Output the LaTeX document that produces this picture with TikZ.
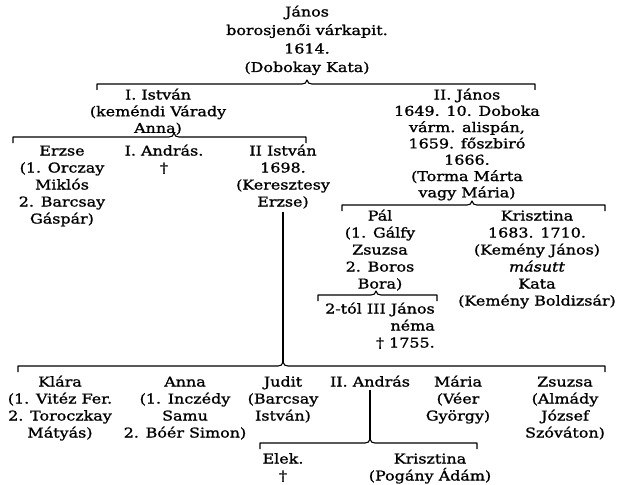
\documentclass[tikz,border=0pt]{standalone}
\usepackage{fontspec}
\setmainfont{DejaVu Serif}[FakeStretch=1.18, FakeBold=1.2]
\usetikzlibrary{calc}
\tikzset{
  person/.style={align=center, inner sep=0pt, anchor=base, font=\fontsize{13.5}{17}\selectfont},
  kinline/.style={line width=1.1pt, line join=round},
  descent/.style={line width=1.2pt, shorten <=3pt},
}
% #1 left end, #2 right end, #3 tip (all on the line)
\newcommand\kinbrace[3]{%
  \draw[kinline] ([yshift=-6pt]#1) -- (#1) -- ([xshift=-5pt]#3)
    .. controls ([xshift=-2pt]#3) and ([xshift=-1pt,yshift=1pt]#3) .. ([yshift=4pt]#3)
    .. controls ([xshift=1pt,yshift=1pt]#3) and ([xshift=2pt]#3) .. ([xshift=5pt]#3)
    -- (#2) -- ([yshift=-6pt]#2);}
\begin{document}
\begin{tikzpicture}[x=1pt,y=-1pt]
\useasboundingbox (0,0) rectangle (617,484);
% node positions are the baselines of their last lines
% generation 1
\node[person, font=\fontsize{13.5}{18.5}\selectfont] (janos1) at (307,72)
  {János\\borosjenői várkapit.\\1614.\\(Dobokay Kata)};
% generation 2
\node[person, font=\fontsize{13.5}{16.7}\selectfont] (istvan1) at (158,132.9)
  {I. István\\(keméndi Várady\\Anna)};
\node[person, font=\fontsize{13.5}{16.3}\selectfont] (janos2) at (467,197.3)
  {II. János\\1649. 10. Doboka\\várm. alispán,\\1659. főszbiró\\1666.\\(Torma Márta\\vagy Mária)};
% generation 3
\node[person] (erzse) at (62,223.5) {Erzse\\(1. Orczay\\Miklós\\2. Barcsay\\Gáspár)};
\node[person] (andras1) at (164,172.5) {I. András.\\†};
\node[person] (istvan2) at (283,206.5) {II István\\1698.\\(Keresztesy\\Erzse)};
\node[person] (pal) at (380,288.5) {Pál\\(1. Gálfy\\Zsuzsa\\2. Boros\\Bora)};
\node[person] (krisztina1) at (537,305.5)
  {Krisztina\\1683. 1710.\\(Kemény János)\\\textit{másutt}\\Kata\\(Kemény Boldizsár)};
% generation 4 (Pál)
\node[person, align=right] (janos3) at (380,347.5) {2-tól III János\\néma\hspace{6pt}\\† 1755.};
% generation 4 (II István)
\node[person] (klara) at (60,437.5) {Klára\\(1. Vitéz Fer.\\2. Toroczkay\\Mátyás)};
\node[person] (anna) at (185,437.5) {Anna\\(1. Inczédy\\Samu\\2. Bóér Simon)};
\node[person] (judit) at (283,420.5) {Judit\\(Barcsay\\István)};
\node[person] (andras2) at (370,386.5) {II. András};
\node[person] (maria) at (458,420.5) {Mária\\(Véer\\György)};
\node[person] (zsuzsa) at (565,437.5) {Zsuzsa\\(Almády\\József\\Szóváton)};
% generation 5
\node[person] (elek) at (283,480.5) {Elek.\\†};
\node[person] (krisztina2) at (430,480.5) {Krisztina\\(Pogány Ádám)};
% family lines
\coordinate (b1l) at (97,84);  \coordinate (b1r) at (535,84);  \coordinate (b1t) at (janos1.south |- b1l);
\coordinate (b2l) at (13,137); \coordinate (b2r) at (306,137); \coordinate (b2t) at (174,137);
\coordinate (b3l) at (342,205); \coordinate (b3r) at (605,205); \coordinate (b3t) at (472,205);
\coordinate (b4l) at (318,295); \coordinate (b4r) at (437,295); \coordinate (b4t) at (376,295);
\coordinate (b5l) at (18,366); \coordinate (b5r) at (605,366); \coordinate (b5t) at (istvan2.south |- b5l);
\coordinate (b6l) at (260,443); \coordinate (b6r) at (477,443); \coordinate (b6t) at (andras2.south |- b6l);
\kinbrace{b1l}{b1r}{b1t}
\kinbrace{b2l}{b2r}{b2t}
\kinbrace{b3l}{b3r}{b3t}
\kinbrace{b4l}{b4r}{b4t}
\kinbrace{b5l}{b5r}{b5t}
\kinbrace{b6l}{b6r}{b6t}
\draw[descent] (istvan2.south) -- ([yshift=4pt]b5t);
\draw[descent] (andras2.south) -- ([yshift=4pt]b6t);
\end{tikzpicture}
\end{document}
